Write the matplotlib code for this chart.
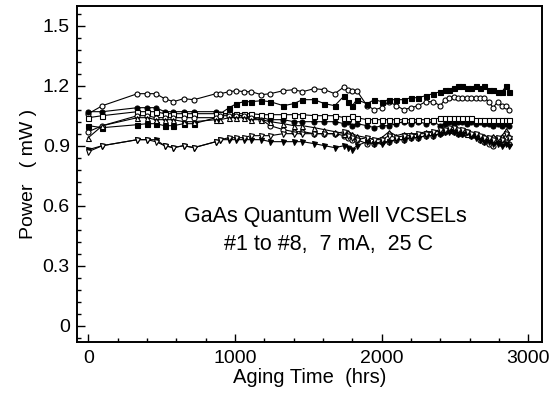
import matplotlib
matplotlib.use("Agg")
import matplotlib.pyplot as plt
from matplotlib.ticker import MultipleLocator

plt.rcParams['font.family'] = ['Liberation Sans', 'DejaVu Sans']

hours = [0, 96, 335, 400, 460, 520, 580, 650, 720, 870, 900, 960, 1010, 1060, 1110,
         1180, 1240, 1330, 1400, 1460, 1540, 1610, 1680, 1745, 1770, 1800, 1830, 1900,
         1950, 2000, 2050, 2100, 2150, 2200, 2250, 2300, 2350, 2400, 2430, 2460, 2490,
         2520, 2550, 2580, 2610, 2640, 2670, 2700, 2730, 2760, 2790, 2820, 2850, 2870]

dev1 = [1.06, 1.10, 1.16, 1.16, 1.16, 1.135, 1.12, 1.135, 1.13, 1.16, 1.16, 1.17, 1.175, 1.17, 1.17,
        1.155, 1.16, 1.175, 1.18, 1.17, 1.185, 1.18, 1.16, 1.195, 1.18, 1.175, 1.175, 1.10,
        1.08, 1.09, 1.12, 1.10, 1.08, 1.09, 1.10, 1.12, 1.12, 1.10, 1.13, 1.14, 1.145,
        1.14, 1.14, 1.14, 1.14, 1.14, 1.14, 1.14, 1.12, 1.09, 1.12, 1.10, 1.10, 1.08]
dev2 = [1.00, 0.99, 1.005, 1.01, 1.01, 1.00, 1.00, 1.01, 1.01, 1.04, 1.06, 1.09, 1.11, 1.12, 1.12,
        1.125, 1.12, 1.10, 1.11, 1.13, 1.13, 1.11, 1.10, 1.15, 1.12, 1.10, 1.13, 1.11,
        1.13, 1.12, 1.13, 1.13, 1.13, 1.14, 1.14, 1.15, 1.16, 1.17, 1.18, 1.18, 1.19,
        1.20, 1.20, 1.19, 1.19, 1.20, 1.19, 1.20, 1.18, 1.18, 1.17, 1.17, 1.20, 1.17]
dev3 = [1.07, 1.07, 1.09, 1.09, 1.09, 1.07, 1.07, 1.07, 1.07, 1.07, 1.06, 1.06, 1.05, 1.05, 1.04,
        1.04, 1.03, 1.03, 1.02, 1.02, 1.02, 1.02, 1.02, 1.01, 1.02, 1.00, 1.01, 1.00,
        0.99, 1.00, 1.00, 1.01, 1.02, 1.01, 1.02, 1.01, 1.02, 1.00, 1.01, 1.02, 1.01,
        1.02, 1.02, 1.01, 1.02, 1.01, 1.02, 1.01, 1.01, 1.00, 1.01, 1.00, 1.01, 1.00]
dev4 = [1.04, 1.05, 1.07, 1.07, 1.07, 1.06, 1.06, 1.06, 1.06, 1.06, 1.06, 1.06, 1.06, 1.06, 1.06,
        1.055, 1.055, 1.055, 1.055, 1.055, 1.05, 1.05, 1.05, 1.04, 1.04, 1.05, 1.04, 1.03,
        1.03, 1.03, 1.03, 1.03, 1.03, 1.03, 1.03, 1.03, 1.03, 1.04, 1.04, 1.04, 1.04,
        1.04, 1.04, 1.04, 1.04, 1.03, 1.03, 1.03, 1.03, 1.03, 1.03, 1.03, 1.03, 1.03]
dev5 = [0.97, 1.00, 1.05, 1.05, 1.04, 1.04, 1.04, 1.04, 1.04, 1.04, 1.05, 1.05, 1.05, 1.05, 1.04,
        1.03, 1.00, 0.98, 0.97, 0.97, 0.96, 0.96, 0.96, 0.95, 0.94, 0.93, 0.93, 0.91,
        0.91, 0.92, 0.92, 0.93, 0.93, 0.94, 0.94, 0.95, 0.95, 0.96, 0.97, 0.98, 0.97,
        0.96, 0.96, 0.96, 0.95, 0.95, 0.93, 0.92, 0.91, 0.90, 0.92, 0.91, 0.92, 0.91]
dev6 = [0.94, 1.00, 1.04, 1.04, 1.03, 1.03, 1.03, 1.02, 1.02, 1.03, 1.03, 1.04, 1.04, 1.04, 1.03,
        1.03, 1.02, 1.01, 1.00, 1.00, 0.99, 0.98, 0.97, 0.96, 0.97, 0.96, 0.95, 0.94,
        0.93, 0.94, 0.97, 0.95, 0.96, 0.96, 0.96, 0.97, 0.97, 0.97, 0.98, 0.98, 0.98,
        0.97, 0.97, 0.96, 0.96, 0.96, 0.95, 0.95, 0.94, 0.95, 0.94, 0.95, 0.98, 0.95]
dev7 = [0.88, 0.90, 0.93, 0.93, 0.93, 0.90, 0.89, 0.90, 0.89, 0.92, 0.93, 0.93, 0.93, 0.93, 0.93,
        0.93, 0.92, 0.92, 0.92, 0.92, 0.91, 0.90, 0.89, 0.90, 0.89, 0.88, 0.90, 0.92,
        0.91, 0.91, 0.92, 0.93, 0.93, 0.94, 0.94, 0.95, 0.95, 0.96, 0.97, 0.97, 0.97,
        0.96, 0.96, 0.97, 0.95, 0.94, 0.93, 0.92, 0.92, 0.91, 0.91, 0.90, 0.91, 0.90]
dev8 = [0.87, 0.90, 0.93, 0.93, 0.92, 0.90, 0.89, 0.90, 0.89, 0.92, 0.93, 0.94, 0.94, 0.94, 0.95,
        0.95, 0.95, 0.96, 0.96, 0.96, 0.96, 0.96, 0.96, 0.97, 0.95, 0.94, 0.93, 0.94,
        0.93, 0.93, 0.95, 0.94, 0.95, 0.95, 0.96, 0.96, 0.97, 0.98, 0.98, 0.99, 0.99,
        0.98, 0.98, 0.97, 0.96, 0.96, 0.95, 0.94, 0.94, 0.93, 0.94, 0.93, 0.96, 0.94]

series = [dev1, dev2, dev3, dev4, dev5, dev6, dev7, dev8]
markers = ['o', 's', 'o', 's', 'o', '^', 'v', 'v']
filled = [False, True, True, False, False, False, True, False]

x_ticks = [0, 1000, 2000, 3000]
y_ticks = [0, 0.3, 0.6, 0.9, 1.2, 1.5]
y_tick_labels = ['0', '0.3', '0.6', '0.9', '1.2', '1.5']

fig = plt.figure(figsize=(5.5, 3.94), dpi=100)
ax = fig.add_axes([0.1395, 0.133, 0.8455, 0.8525])

for vals, m, f in zip(series, markers, filled):
    ax.plot(hours, vals, color='black', lw=0.8, marker=m, markersize=3.6,
            markerfacecolor='black' if f else 'white', markeredgecolor='black',
            markeredgewidth=0.8)

ax.set_xlim(-79, 3091)
ax.set_ylim(-0.08, 1.60)
ax.set_xticks(x_ticks)
ax.set_yticks(y_ticks)
ax.set_yticklabels(y_tick_labels)
ax.xaxis.set_minor_locator(MultipleLocator(200))
ax.yaxis.set_minor_locator(MultipleLocator(0.06))
ax.tick_params(which='both', direction='in', top=False, right=False, labelsize=14, width=1.0)
ax.tick_params(which='major', length=6)
ax.tick_params(which='minor', length=3)
ax.tick_params(axis='y', pad=5)
ax.tick_params(axis='x', pad=6)
for sp in ax.spines.values():
    sp.set_linewidth(1.4)

ax.set_xlabel('Aging Time  (hrs)', fontsize=14.5, labelpad=1)
ax.set_ylabel('Power   ( mW )', fontsize=14, labelpad=4)

ax.text(1613, 0.547, 'GaAs Quantum Well VCSELs', fontsize=15.5, ha='center', va='center')
ax.text(1635, 0.405, '#1 to #8,  7 mA,  25 C', fontsize=15.5, ha='center', va='center')

fig.savefig('out.png', dpi=100)
